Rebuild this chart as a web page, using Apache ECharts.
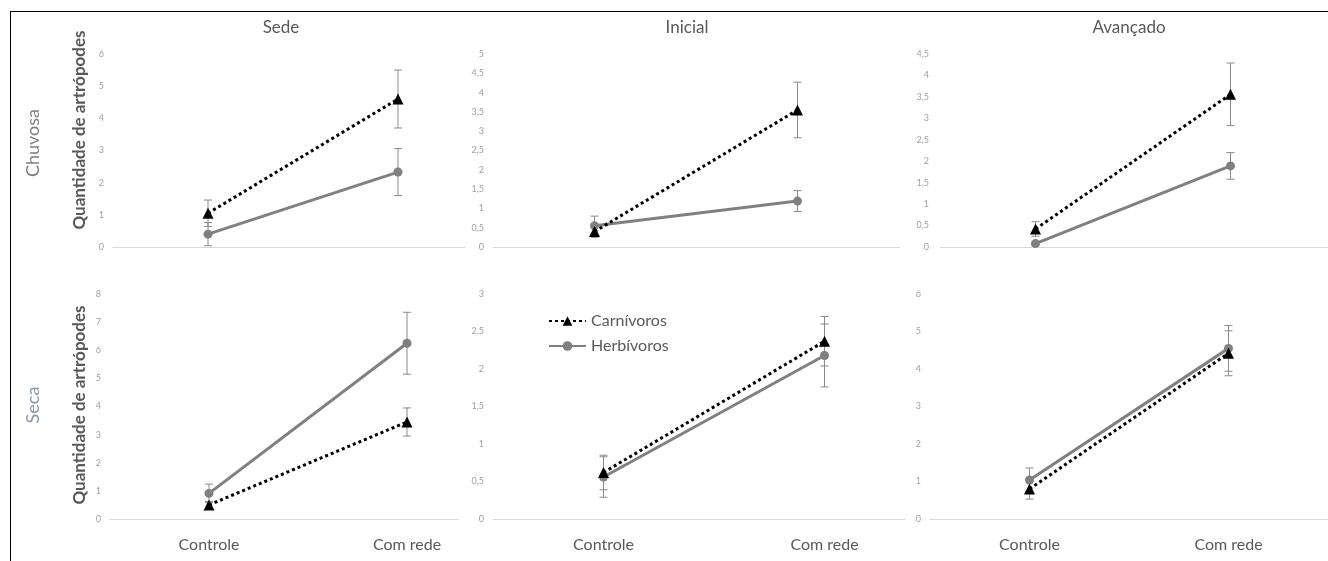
<!DOCTYPE html>
<html><head><meta charset="utf-8">
<script src="https://cdn.jsdelivr.net/npm/echarts@6/dist/echarts.min.js"></script>
<style>
html,body{margin:0;padding:0;background:#fff}
#c{width:1328px;height:561px;position:absolute;left:0;top:0}
#frame{position:absolute;left:10px;top:11px;width:1318px;height:550px;border-top:1px solid #000;border-left:1px solid #000;pointer-events:none}
</style>
</head><body><div id="c"></div><div id="frame"></div>
<script>
// ---------- data ----------
const categories = ['Controle', 'Com rede'];
const sites = ['Sede', 'Inicial', 'Avançado'];
const seasons = ['Chuvosa', 'Seca'];
const seriesNames = ['Carnívoros', 'Herbívoros'];
const yAxisTitle = 'Quantidade de artrópodes';

// means per site: [Controle, Com rede]
const carnChuvosa = [[1.05, 4.6], [0.4, 3.55], [0.42, 3.56]];
const carnSeca    = [[0.5, 3.45], [0.62, 2.37], [0.8, 4.42]];
const herbChuvosa = [[0.4, 2.33], [0.55, 1.19], [0.08, 1.89]];
const herbSeca    = [[0.91, 6.25], [0.56, 2.18], [1.04, 4.55]];
// error bar half-widths
const carnErrChuvosa = [[0.41, 0.9], [0.15, 0.72], [0.17, 0.73]];
const carnErrSeca    = [[0.12, 0.5], [0.23, 0.33], [0.27, 0.6]];
const herbErrChuvosa = [[0.36, 0.73], [0.25, 0.27], [0.05, 0.31]];
const herbErrSeca    = [[0.33, 1.1], [0.27, 0.42], [0.32, 0.61]];

// y axis ticks: max and step per panel
const yMaxChuvosa = [6, 5, 4.5];
const yStepChuvosa = [1, 0.5, 0.5];
const yMaxSeca = [8, 3, 6];
const yStepSeca = [1, 0.5, 1];

// ---------- layout ----------
const rowTop = [54, 294], rowH = [193, 225];
const plotLeft = [[113, 493, 938], [110, 493, 930]];
const plotW = [[380, 406, 402], [396, 442, 428]];
const baseL = [[113, 493, 940], [110, 493, 930]];
const baseR = [[465, 900, 1328], [458, 905, 1328]];
const FONT = 'Lato';

const carn = [carnChuvosa, carnSeca], herb = [herbChuvosa, herbSeca];
const carnErr = [carnErrChuvosa, carnErrSeca], herbErr = [herbErrChuvosa, herbErrSeca];
const yMax = [yMaxChuvosa, yMaxSeca], yStep = [yStepChuvosa, yStepSeca];

function renderErr(params, api) {
  const x = api.value(0), lo = api.value(1), hi = api.value(2);
  const p1 = api.coord([x, lo]), p2 = api.coord([x, hi]);
  const cw = 4;
  const st = { stroke: '#8a8a8a', lineWidth: 1 };
  return { type: 'group', children: [
    { type: 'line', shape: { x1: p1[0], y1: p1[1], x2: p2[0], y2: p2[1] }, style: st },
    { type: 'line', shape: { x1: p1[0] - cw, y1: p1[1], x2: p1[0] + cw, y2: p1[1] }, style: st },
    { type: 'line', shape: { x1: p2[0] - cw, y1: p2[1], x2: p2[0] + cw, y2: p2[1] }, style: st }
  ]};
}
function errData(means, errs) {
  return means.map((m, i) => [i, m - errs[i], m + errs[i]]);
}

const grids = [], xAxes = [], yAxes = [], series = [];
for (let r = 0; r < 2; r++) {
  for (let c = 0; c < 3; c++) {
    const gi = grids.length;
    grids.push({ left: plotLeft[r][c], top: rowTop[r], width: plotW[r][c], height: rowH[r] });
    xAxes.push({ type: 'category', gridIndex: gi, data: categories, boundaryGap: true,
      axisLine: { show: false }, axisTick: { show: false }, splitLine: { show: false },
      axisLabel: { show: r === 1, color: '#595959', fontSize: 16, fontFamily: FONT, margin: 18 } });
    yAxes.push({ type: 'value', gridIndex: gi, min: 0, max: yMax[r][c], interval: yStep[r][c],
      axisLine: { show: false }, axisTick: { show: false }, splitLine: { show: false },
      axisLabel: { color: '#a0a0a0', fontSize: 9, fontFamily: FONT, margin: 9,
        formatter: v => String(v).replace('.', ',') } });
    series.push({ type: 'custom', name: 'errC', xAxisIndex: gi, yAxisIndex: gi, z: 1,
      renderItem: renderErr, encode: { x: 0, y: [1, 2] }, data: errData(carn[r][c], carnErr[r][c]) });
    series.push({ type: 'custom', name: 'errH', xAxisIndex: gi, yAxisIndex: gi, z: 1,
      renderItem: renderErr, encode: { x: 0, y: [1, 2] }, data: errData(herb[r][c], herbErr[r][c]) });
    series.push({ type: 'line', name: seriesNames[1], xAxisIndex: gi, yAxisIndex: gi, z: 3,
      data: herb[r][c], symbol: 'circle', symbolSize: 9, showSymbol: true,
      lineStyle: { color: '#808080', width: 3 }, itemStyle: { color: '#808080' } });
    series.push({ type: 'line', name: seriesNames[0], xAxisIndex: gi, yAxisIndex: gi, z: 4,
      data: carn[r][c], symbol: 'triangle', symbolSize: 11, showSymbol: true,
      lineStyle: { color: '#000', width: 3, type: [3, 3] }, itemStyle: { color: '#000' } });
  }
}
// baselines (horizontal axis lines at y = 0)
for (let r = 0; r < 2; r++) {
  for (let c = 0; c < 3; c++) {
    const bi = grids.length;
    grids.push({ left: baseL[r][c], width: baseR[r][c] - baseL[r][c], top: rowTop[r] + rowH[r] - 1, height: 1 });
    xAxes.push({ type: 'value', gridIndex: bi, min: 0, max: 1,
      axisLine: { show: true, lineStyle: { color: '#d9d9d9', width: 1 } },
      axisTick: { show: false }, axisLabel: { show: false }, splitLine: { show: false } });
    yAxes.push({ type: 'value', gridIndex: bi, min: 0, max: 1, show: false });
  }
}

const siteX = [281, 687, 1129];
const graphics = [];
sites.forEach((s, i) => graphics.push({ type: 'text', x: siteX[i], y: 28,
  style: { text: s, fill: '#595959', fontSize: 17, fontFamily: FONT, align: 'center', verticalAlign: 'middle', textAlign: 'center', textVerticalAlign: 'middle' } }));
const seasonY = [143, 405], seasonColor = ['#7f7f7f', '#8497b0'];
seasons.forEach((s, i) => graphics.push({ type: 'text', x: 33, y: seasonY[i], rotation: Math.PI / 2,
  style: { text: s, fill: seasonColor[i], fontSize: 18, fontFamily: FONT, align: 'center', verticalAlign: 'middle', textAlign: 'center', textVerticalAlign: 'middle' } }));
const nameY = [130, 405];
nameY.forEach(y => graphics.push({ type: 'text', x: 80, y: y, rotation: Math.PI / 2,
  style: { text: yAxisTitle, fill: '#595959', fontSize: 17, fontWeight: 'bold', fontFamily: FONT, align: 'center', verticalAlign: 'middle', textAlign: 'center', textVerticalAlign: 'middle' } }));

const chart = echarts.init(document.getElementById('c'), null, { renderer: 'canvas' });
chart.setOption({
  animation: false,
  backgroundColor: '#fff',
  grid: grids, xAxis: xAxes, yAxis: yAxes, series: series,
  legend: { data: seriesNames, orient: 'vertical', left: 548, top: 313, padding: 0, itemWidth: 37, itemHeight: 12,
    itemGap: 9, textStyle: { color: '#595959', fontSize: 16, fontFamily: FONT } },
  graphic: graphics
});
</script>
</body></html>
